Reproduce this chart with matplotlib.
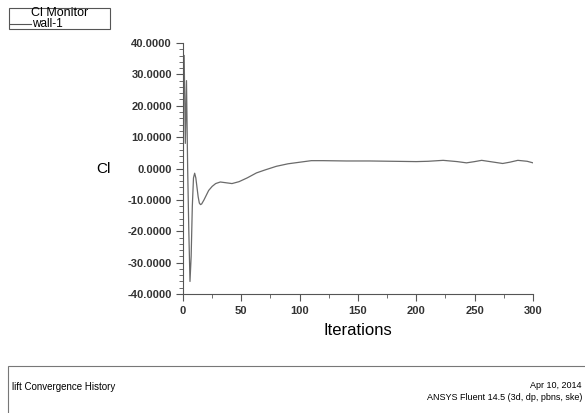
import numpy as np
import matplotlib.pyplot as plt
from matplotlib.patches import Rectangle
from matplotlib.lines import Line2D
from matplotlib.ticker import MultipleLocator, FormatStrFormatter

plt.rcParams['font.family'] = ['Liberation Sans', 'DejaVu Sans']

# lift coefficient history
iterations = [1, 2, 3, 4, 5, 6, 7, 8, 9, 10, 11, 12, 13, 14, 15, 16, 18, 20, 22, 25,
              28, 32, 36, 42, 48, 55, 63, 70, 80, 90, 100, 110, 120, 140, 160, 180,
              200, 210, 223, 235, 243, 250, 256, 265, 274, 280, 287, 295, 300]
cl_values = [36.0, 8.0, 28.0, 0.0, -20.0, -36.0, -28.0, -12.0, -3.0, -1.5, -3.0, -6.0,
             -9.0, -11.0, -11.5, -11.3, -10.0, -8.5, -7.0, -5.7, -4.8, -4.3, -4.5, -4.8,
             -4.2, -3.0, -1.4, -0.5, 0.7, 1.5, 2.0, 2.5, 2.5, 2.4, 2.4, 2.3, 2.2, 2.3,
             2.6, 2.2, 1.8, 2.2, 2.6, 2.1, 1.6, 2.0, 2.6, 2.3, 1.8]

fig = plt.figure(figsize=(5.85, 4.13), dpi=100)
ax = fig.add_axes([0.3128, 0.2881, 0.5983, 0.6078])

ax.plot(iterations, cl_values, color='#6a6a6a', lw=0.9)

ax.set_xlim(0, 300)
ax.set_ylim(-40, 40)
for s in ['top', 'right']:
    ax.spines[s].set_visible(False)
for s in ['left', 'bottom']:
    ax.spines[s].set_color('#555555')
    ax.spines[s].set_linewidth(0.8)

ax.xaxis.set_major_locator(MultipleLocator(50))
ax.xaxis.set_minor_locator(MultipleLocator(25))
ax.yaxis.set_major_locator(MultipleLocator(10))
ax.yaxis.set_minor_locator(MultipleLocator(2))
ax.yaxis.set_major_formatter(FormatStrFormatter('%.4f'))
ax.tick_params(which='major', length=5, width=0.8, color='#555555',
               labelsize=8, labelcolor='#333333')
ax.tick_params(which='minor', length=3, width=0.6, color='#555555')
ax.tick_params(axis='y', pad=3)
for lab in ax.get_xticklabels() + ax.get_yticklabels():
    lab.set_fontweight('bold')

ax.set_xlabel('Iterations', fontsize=12, labelpad=5)
ax.set_ylabel('Cl', fontsize=11, rotation=0, va='center', ha='center')
ax.yaxis.set_label_coords(-0.226, 0.5)

# legend box, top left
fig.patches.append(Rectangle((9 / 585, 1 - 29 / 413), 101 / 585, 21 / 413,
                             transform=fig.transFigure, fill=False,
                             edgecolor='#555555', lw=0.8))
fig.text(60 / 585, 1 - 13 / 413, 'Cl Monitor', ha='center', va='center', fontsize=9)
fig.lines.append(Line2D([10 / 585, 31 / 585], [1 - 24 / 413, 1 - 24 / 413],
                        transform=fig.transFigure, color='#555555', lw=0.8))
fig.text(32 / 585, 1 - 24 / 413, 'wall-1', ha='left', va='center', fontsize=8.5)

# title block at the bottom
fig.patches.append(Rectangle((8 / 585, -0.05), 1.0, 1 - 366 / 413 + 0.05,
                             transform=fig.transFigure, fill=False,
                             edgecolor='#777777', lw=0.8))
fig.text(12 / 585, 1 - 387 / 413, 'lift Convergence History', ha='left', va='center', fontsize=7)
fig.text(582 / 585, 1 - 386 / 413, 'Apr 10, 2014', ha='right', va='center', fontsize=6.5)
fig.text(582 / 585, 1 - 398 / 413, 'ANSYS Fluent 14.5 (3d, dp, pbns, ske)', ha='right', va='center', fontsize=6.5)

fig.savefig('out.png', dpi=100)
